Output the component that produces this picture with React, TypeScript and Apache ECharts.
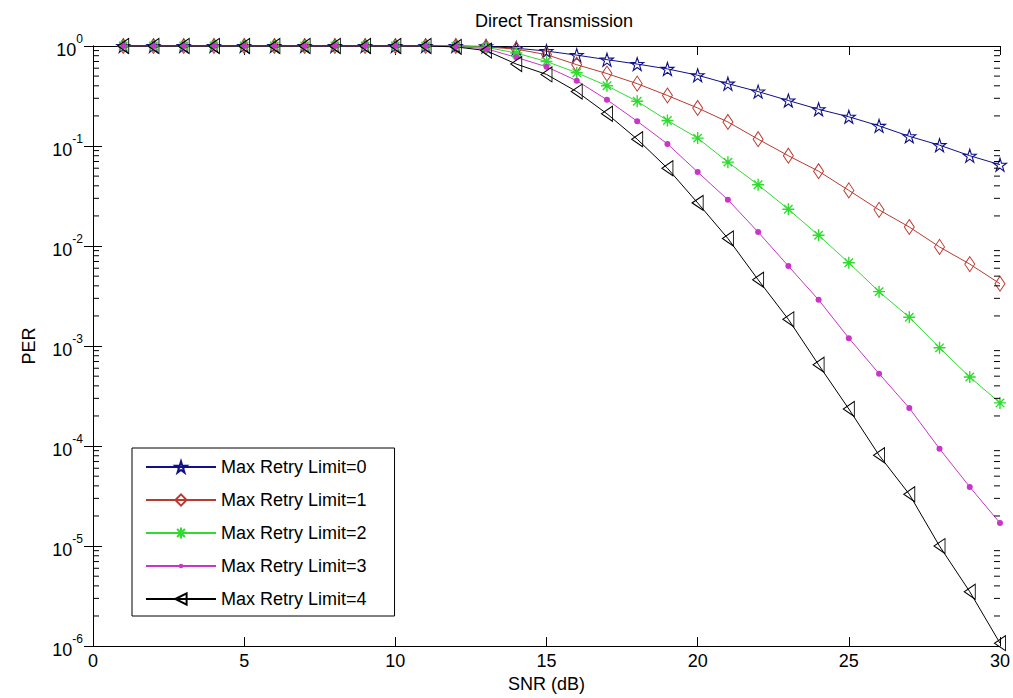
import React, { useEffect, useRef } from "react";
import * as echarts from "echarts";

const snr = [1, 2, 3, 4, 5, 6, 7, 8, 9, 10, 11, 12, 13, 14, 15, 16, 17, 18, 19, 20, 21, 22, 23, 24, 25, 26, 27, 28, 29, 30];

const retry0 = [1, 1, 1, 1, 1, 1, 1, 1, 1, 1, 1, 1, 0.99, 0.95, 0.89, 0.81, 0.73, 0.66, 0.59, 0.51, 0.42, 0.35, 0.285, 0.233, 0.196, 0.159, 0.125, 0.102, 0.08, 0.065];
const retry1 = [1, 1, 1, 1, 1, 1, 1, 1, 1, 1, 1, 1, 0.98, 0.93, 0.82, 0.65, 0.53, 0.42, 0.32, 0.24, 0.174, 0.117, 0.08, 0.056, 0.036, 0.023, 0.0155, 0.0098, 0.0066, 0.0042];
const retry2 = [1, 1, 1, 1, 1, 1, 1, 1, 1, 1, 1, 0.995, 0.97, 0.85, 0.7, 0.54, 0.4, 0.28, 0.18, 0.12, 0.069, 0.041, 0.0233, 0.0128, 0.0068, 0.0035, 0.00194, 0.00096, 0.00049, 0.00027];
const retry3 = [1, 1, 1, 1, 1, 1, 1, 1, 1, 1, 1, 0.99, 0.94, 0.77, 0.62, 0.45, 0.29, 0.177, 0.105, 0.055, 0.029, 0.0138, 0.0063, 0.0029, 0.0012, 0.00053, 0.00024, 0.000094, 0.000039, 0.000017];
const retry4 = [1, 1, 1, 1, 1, 1, 1, 1, 1, 1, 1, 0.98, 0.9, 0.66, 0.52, 0.35, 0.21, 0.117, 0.06, 0.027, 0.0119, 0.0046, 0.00185, 0.00065, 0.000235, 0.000081, 0.000033, 0.00001, 0.0000035, 0.00000107];

const seriesNames = ["Max Retry Limit=0", "Max Retry Limit=1", "Max Retry Limit=2", "Max Retry Limit=3", "Max Retry Limit=4"];
const titleText = "Direct Transmission";
const xName = "SNR (dB)";
const yName = "PER";
const xMin = 0;
const xMax = 30;
const xInterval = 5;
const yMin = 1e-6;
const yMax = 1;

const FONT = "'Liberation Sans', Arial, Helvetica, sans-serif";

const STAR = "path://M0,-1 L0.2245,-0.309 L0.951,-0.309 L0.363,0.118 L0.588,0.809 L0,0.382 L-0.588,0.809 L-0.363,0.118 L-0.951,-0.309 L-0.2245,-0.309 Z";
const DIAMOND = "path://M0,-1 L1,0 L0,1 L-1,0 Z";
const ASTER = "path://M0,-1 L0,1 M-1,0 L1,0 M-0.7,-0.7 L0.7,0.7 M-0.7,0.7 L0.7,-0.7";
const TRI_LEFT = "path://M-1,0 L1,-1 L1,1 Z";
// small dot inside a larger (empty) bounding box so that legend & plot keep it small
const DOT = "path://M-2.5,-2.5 M2.5,2.5 M1,0 A1,1 0 1,1 -1,0 A1,1 0 1,1 1,0 Z";

export default function App() {
  const ref = useRef<HTMLDivElement>(null);

  useEffect(() => {
    const chart = echarts.init(ref.current!, null, { renderer: "svg" });

    const minorVals: number[][] = [];
    for (let n = -6; n < 0; n++) {
      for (let k = 2; k <= 9; k++) {
        minorVals.push([0, k * Math.pow(10, n)]);
      }
    }

    const mk = (
      name: string,
      vals: number[],
      color: string,
      symbol: string,
      size: number | number[],
      filled: boolean,
      bw: number
    ) => ({
      name,
      type: "line",
      data: snr.map((x, i) => [x, vals[i]]),
      symbol,
      symbolSize: size,
      showAllSymbol: true,
      clip: false,
      lineStyle: { color, width: 1 },
      itemStyle: filled
        ? { color, borderColor: color, borderWidth: 0 }
        : { color: "rgba(255,255,255,0)", borderColor: color, borderWidth: bw },
      emphasis: { disabled: true },
    });

    const axisCommon = {
      axisLine: { show: true, lineStyle: { color: "#000", width: 1 } },
      splitLine: { show: false },
    };

    chart.setOption({
      animation: false,
      backgroundColor: "#fff",
      textStyle: { fontFamily: FONT },
      title: {
        text: titleText,
        left: 549,
        top: 7,
        textAlign: "center",
        textStyle: { fontSize: 18, fontWeight: "normal", color: "#000", fontFamily: FONT },
      },
      grid: { left: 93, right: 8, top: 46, bottom: 38, containLabel: false },
      legend: {
        data: seriesNames,
        orient: "vertical",
        left: 132,
        top: 448,
        itemWidth: 70,
        itemHeight: 14,
        itemGap: 15,
        padding: [10, 28, 8, 13],
        borderColor: "#000",
        borderWidth: 1,
        backgroundColor: "#fff",
        textStyle: { fontSize: 18, color: "#000", fontFamily: FONT },
      },
      xAxis: [
        {
          type: "value",
          min: xMin,
          max: xMax,
          interval: xInterval,
          position: "bottom",
          name: xName,
          nameLocation: "middle",
          nameGap: 23,
          nameTextStyle: { fontSize: 18, color: "#000", fontFamily: FONT },
          axisTick: { show: true, inside: true, length: 9, lineStyle: { color: "#000" } },
          axisLabel: { fontSize: 18, color: "#000", margin: 6, fontFamily: FONT },
          ...axisCommon,
        },
        {
          type: "value",
          min: xMin,
          max: xMax,
          interval: xInterval,
          position: "top",
          axisTick: { show: true, inside: true, length: 9, lineStyle: { color: "#000" } },
          axisLabel: { show: false },
          ...axisCommon,
        },
      ],
      yAxis: [
        {
          type: "log",
          logBase: 10,
          min: yMin,
          max: yMax,
          position: "left",
          name: yName,
          nameLocation: "middle",
          nameGap: 55,
          nameTextStyle: { fontSize: 18, color: "#000", fontFamily: FONT },
          axisTick: { show: true, inside: true, length: 9, lineStyle: { color: "#000" } },
          axisLabel: {
            margin: 10,
            formatter: (v: number) => {
              const e = Math.round(Math.log10(v));
              return "{b|10}{s|" + e + "}";
            },
            rich: {
              b: { fontSize: 18, color: "#000", fontFamily: FONT, verticalAlign: "bottom", lineHeight: 26 },
              s: { fontSize: 12, color: "#000", fontFamily: FONT, verticalAlign: "top", lineHeight: 26 },
            },
          },
          ...axisCommon,
        },
        {
          type: "log",
          logBase: 10,
          min: yMin,
          max: yMax,
          position: "right",
          axisTick: { show: true, inside: true, length: 9, lineStyle: { color: "#000" } },
          axisLabel: { show: false },
          ...axisCommon,
        },
      ],
      series: [
        {
          type: "custom",
          name: "minorTicks",
          xAxisIndex: 0,
          yAxisIndex: 0,
          data: minorVals,
          silent: true,
          clip: false,
          z: 5,
          renderItem: (params: any, api: any) => {
            const v = api.value(1);
            const y = api.coord([0, v])[1];
            const cs = params.coordSys;
            return {
              type: "group",
              children: [
                { type: "line", shape: { x1: cs.x, y1: y, x2: cs.x + 6, y2: y }, style: { stroke: "#000", lineWidth: 1 } },
                { type: "line", shape: { x1: cs.x + cs.width - 6, y1: y, x2: cs.x + cs.width, y2: y }, style: { stroke: "#000", lineWidth: 1 } },
              ],
            };
          },
        },
        mk(seriesNames[0], retry0, "#10108a", STAR, 13, false, 1.1),
        mk(seriesNames[1], retry1, "#bb3a30", DIAMOND, [10, 15], false, 1),
        mk(seriesNames[2], retry2, "#2ddc2d", ASTER, 12, false, 1.4),
        mk(seriesNames[3], retry3, "#c835c8", DOT, 15, true, 0),
        mk(seriesNames[4], retry4, "#000000", TRI_LEFT, [11, 15], false, 1),
      ],
    });

    return () => chart.dispose();
  }, []);

  return (
    <div
      ref={ref}
      style={{ position: "absolute", left: 0, top: 0, width: 1013, height: 698, background: "#fff" }}
    />
  );
}
